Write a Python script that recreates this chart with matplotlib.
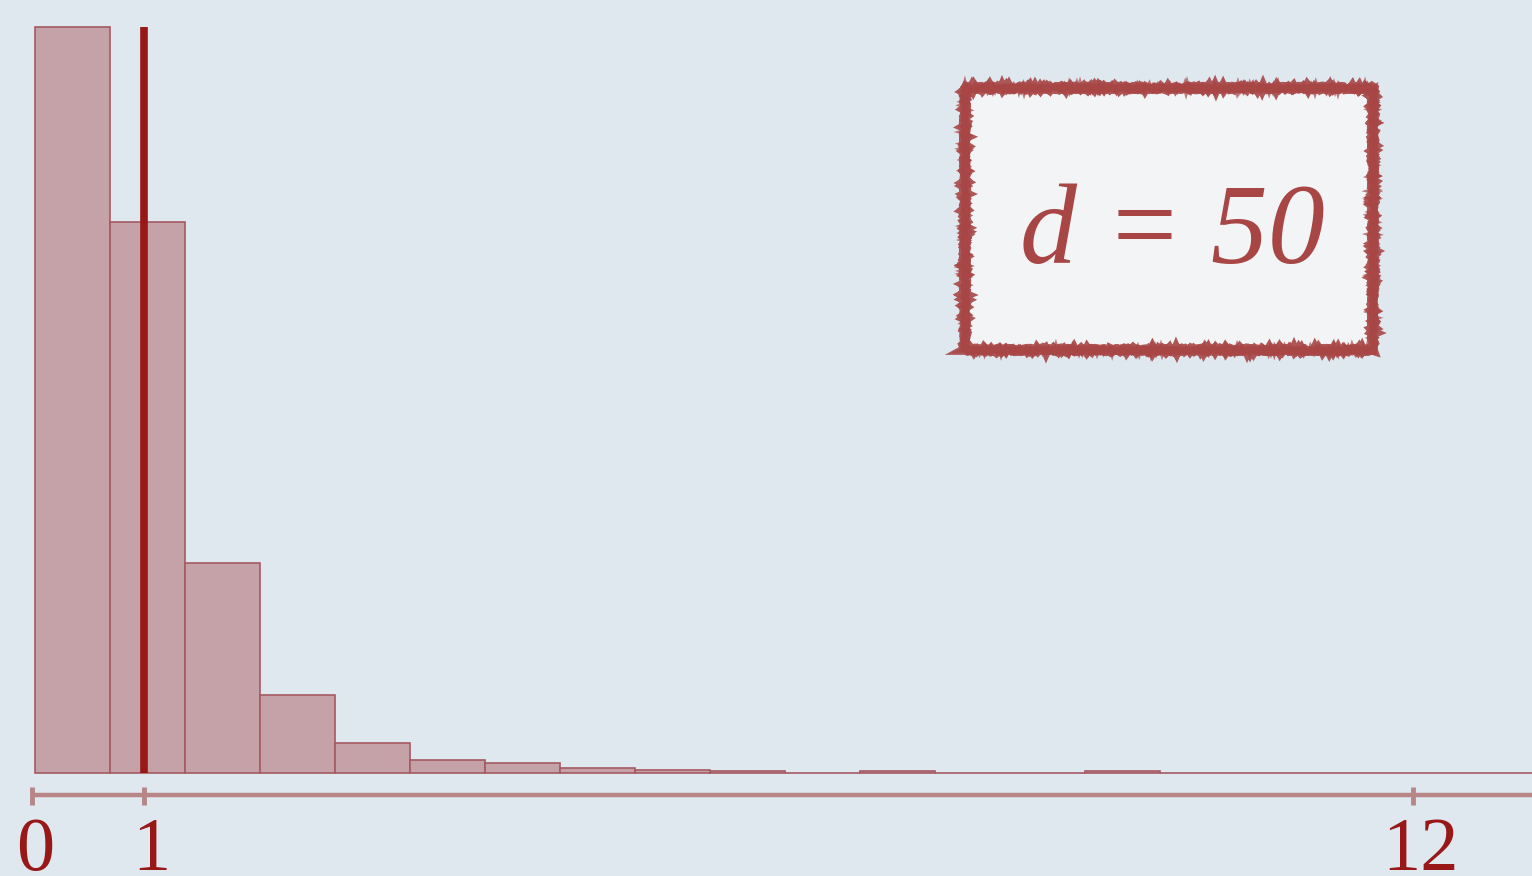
import numpy as np
import matplotlib
matplotlib.use("Agg")
import matplotlib.pyplot as plt
from matplotlib.patches import Rectangle

# histogram of the sample: 20 equal bins between the sample min and max
bin_lo, bin_hi = 0.055, 13.055
counts = [452, 334, 127, 47, 18, 8, 6, 3, 2, 1, 0, 1, 0, 0, 1, 0, 0, 0, 0, 0]
mean_value = 1.0
tick_values = [0, 1, 12]
tick_labels = ["0", "1", "12"]
box_text = "d = 50"

bg = "#dfe7ef"
bar_face = "#c4a2a7"
bar_edge = "#a65a62"
dark_red = "#981818"
axis_col = "#b88686"
box_col = "#a84646"

fig = plt.figure(figsize=(15.32, 8.76), dpi=100)
fig.patch.set_facecolor(bg)
ax = fig.add_axes([0, 0, 1, 1])
ax.set_facecolor(bg)

edges = np.linspace(bin_lo, bin_hi, len(counts) + 1)
width = edges[1] - edges[0]
ax.bar(edges[:-1], counts, width=width, align="edge", color=bar_face,
       edgecolor=bar_edge, linewidth=1.2, zorder=2)

# mean marker
ax.vlines(mean_value, 0, max(counts), color=dark_red, linewidth=5.5, zorder=3)

ax.set_xlim(-0.248, 13.028)
ax.set_ylim(-62.4, 468.5)
ax.axis("off")

# number line under the bars
tr = ax.get_xaxis_transform()
ax.plot([0.03, 13.2], [0.0925, 0.0925], transform=tr, color=axis_col,
        linewidth=3.2, solid_capstyle="butt", clip_on=False)
for v, lab in zip(tick_values, tick_labels):
    ax.plot([max(v, 0.03)] * 2, [0.081, 0.1016], transform=tr, color=axis_col,
            linewidth=3.5, solid_capstyle="butt")
    ax.annotate(lab, xy=(v, 0.007), xycoords=tr, xytext=(7, 0),
                textcoords="offset pixels", ha="center", va="baseline",
                fontsize=55, family="Liberation Serif", color=dark_red)

# label box with a scratchy border
bx, by, bw, bh = 0.6300, 0.6010, 0.2665, 0.2980
box = Rectangle((bx, by), bw, bh, transform=ax.transAxes,
                facecolor="#f2f4f6", edgecolor="none", zorder=4)
ax.add_patch(box)
rough_passes = [(0, 7.0, 1.2, 1.0, 0.9), (1, 4.0, 1.8, 0.8, 0.7),
                (2, 2.0, 2.2, 0.6, 0.6), (3, 5.0, 1.0, 1.5, 0.8)]
for seed, lw, sc, ln, a in rough_passes:
    np.random.seed(seed)
    rough = Rectangle((bx, by), bw, bh, transform=ax.transAxes,
                      facecolor="none", edgecolor=box_col, linewidth=lw,
                      zorder=5, alpha=a)
    rough.set_sketch_params(scale=sc, length=ln, randomness=40)
    ax.add_patch(rough)

ax.text(0.765, 0.6998, box_text, transform=ax.transAxes, ha="center",
        va="baseline", fontsize=82, family="Liberation Serif",
        style="italic", color=box_col, zorder=6)

fig.savefig("out.png", dpi=100, facecolor=bg)
